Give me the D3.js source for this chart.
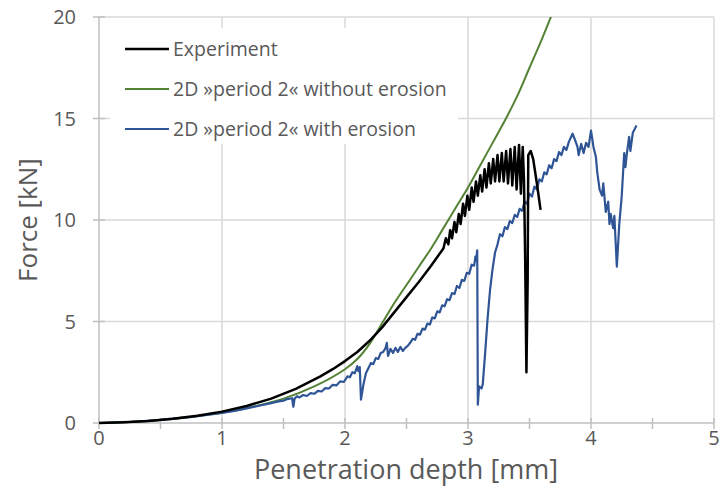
<head>
    <title>Force vs penetration depth</title>
    <script src="https://d3js.org/d3.v7.min.js"></script>
    <style>
        body { margin: 0; background: white; }
        .tick-label { font-family: "Open Sans"; font-size: 20px; fill: #595959; }
        .axis-title { font-family: "Open Sans"; font-size: 27px; fill: #595959; }
        .legend-text { font-family: "Open Sans"; font-size: 19.5px; fill: #595959; }
        .grid { stroke: #d9d9d9; stroke-width: 1.5px; }
        .axis-line { stroke: #bfbfbf; stroke-width: 1.5px; }
        .curve { fill: none; stroke-linejoin: round; }
    </style>
</head>
<body>
    <div class="container"></div>
    <script>
        // tick labels
        let xTicks = [0, 1, 2, 3, 4, 5];
        let xMinor = [0.5, 1.5, 2.5, 3.5, 4.5];
        let yTicks = [0, 5, 10, 15, 20];

        // [depth mm, force kN]
        let experiment = [
            [0, 0], [0.2, 0.04], [0.4, 0.1], [0.6, 0.21], [0.8, 0.36], [1, 0.56], [1.2, 0.84],
            [1.4, 1.2], [1.6, 1.68], [1.8, 2.3], [1.9, 2.65], [2, 3.05], [2.1, 3.5], [2.2, 4.05],
            [2.3, 4.7], [2.4, 5.45], [2.5, 6.2], [2.6, 6.95], [2.7, 7.75], [2.8, 8.6],
            [2.82, 9.1], [2.84, 8.8], [2.855, 9.5], [2.87, 9.1], [2.89, 9.9], [2.905, 9.4],
            [2.925, 10.3], [2.94, 9.8], [2.96, 10.8], [2.975, 10.2], [2.995, 11.2], [3.01, 10.5],
            [3.03, 11.6], [3.045, 10.9], [3.065, 11.9], [3.08, 11.2], [3.10, 12.2], [3.115, 11.4],
            [3.135, 12.5], [3.15, 11.6], [3.17, 12.8], [3.185, 11.8], [3.205, 13.0], [3.22, 11.9],
            [3.24, 13.2], [3.255, 11.9], [3.275, 13.3], [3.29, 11.9], [3.31, 13.4], [3.325, 11.8],
            [3.345, 13.5], [3.36, 11.7], [3.38, 13.6], [3.395, 11.5], [3.415, 13.7], [3.43, 11.3],
            [3.445, 13.6], [3.455, 12.0], [3.465, 8.0], [3.475, 2.5], [3.485, 7.0], [3.49, 13.2],
            [3.51, 13.4], [3.53, 13.0], [3.56, 11.8], [3.59, 10.5]
        ];

        let noErosion = [
            [0, 0], [0.25, 0.05], [0.5, 0.15], [0.75, 0.3], [1, 0.5], [1.25, 0.8], [1.5, 1.2],
            [1.75, 1.8], [2, 2.65], [2.1, 3.15], [2.2, 3.9], [2.3, 4.9], [2.4, 5.9], [2.5, 6.8],
            [2.6, 7.7], [2.7, 8.6], [2.8, 9.6], [2.9, 10.6], [3.0, 11.6], [3.1, 12.7], [3.2, 13.8],
            [3.3, 14.9], [3.4, 16.1], [3.5, 17.5], [3.6, 18.9], [3.7, 20.4]
        ];

        let withErosion = [
            [0, 0], [0.25, 0.05], [0.5, 0.15], [0.75, 0.3], [1, 0.5], [1.1, 0.6], [1.2, 0.72],
            [1.3, 0.85], [1.4, 0.98], [1.45, 1.05], [1.5, 1.1], [1.53, 1.18], [1.57, 1.22],
            [1.58, 0.8], [1.59, 1.2], [1.61, 1.32], [1.63, 1.26], [1.66, 1.38], [1.69, 1.33],
            [1.72, 1.47], [1.75, 1.44], [1.78, 1.58], [1.81, 1.55], [1.84, 1.72], [1.87, 1.7],
            [1.9, 1.88], [1.93, 1.85], [1.96, 2.05], [1.99, 2.02], [2.02, 2.3], [2.04, 2.25],
            [2.06, 2.5], [2.08, 2.45], [2.1, 2.8], [2.11, 2.55], [2.12, 2.75], [2.13, 1.15],
            [2.15, 1.9], [2.17, 2.45], [2.19, 2.7], [2.21, 2.95], [2.23, 2.9], [2.25, 3.2],
            [2.27, 3.15], [2.29, 3.45], [2.31, 3.5], [2.33, 3.7], [2.34, 3.95], [2.35, 3.3],
            [2.37, 3.65], [2.39, 3.45], [2.41, 3.7], [2.43, 3.5], [2.45, 3.75], [2.47, 3.55],
            [2.49, 3.7], [2.51, 3.8], [2.53, 3.95], [2.55, 4.15], [2.57, 4.1], [2.59, 4.4],
            [2.61, 4.35], [2.63, 4.65], [2.65, 4.6], [2.67, 4.9], [2.69, 4.85], [2.71, 5.2],
            [2.73, 5.15], [2.75, 5.5], [2.77, 5.45], [2.79, 5.8], [2.81, 5.75], [2.83, 6.1],
            [2.85, 6.05], [2.87, 6.4], [2.89, 6.35], [2.91, 6.75], [2.93, 6.65], [2.95, 7.05],
            [2.97, 7.0], [2.99, 7.4], [3.01, 7.35], [3.03, 7.8], [3.05, 7.75], [3.06, 8.2],
            [3.065, 8.0], [3.075, 8.5], [3.08, 0.9], [3.09, 1.8], [3.11, 1.7], [3.12, 1.9],
            [3.14, 3.5], [3.16, 5.2], [3.18, 6.6], [3.2, 7.6], [3.22, 8.4], [3.24, 8.8],
            [3.26, 9.3], [3.28, 9.2], [3.3, 9.65], [3.32, 9.55], [3.34, 9.95], [3.36, 9.85],
            [3.38, 10.25], [3.4, 10.15], [3.42, 10.55], [3.44, 10.45], [3.46, 10.9], [3.48, 10.8],
            [3.5, 11.3], [3.52, 11.15], [3.54, 11.65], [3.56, 11.5], [3.58, 12.0], [3.6, 11.9],
            [3.62, 12.35], [3.64, 12.25], [3.66, 12.7], [3.68, 12.55], [3.7, 13.0], [3.72, 12.9],
            [3.74, 13.35], [3.76, 13.2], [3.78, 13.6], [3.8, 13.45], [3.82, 13.85], [3.85, 14.25],
            [3.87, 13.95], [3.89, 13.6], [3.9, 13.2], [3.92, 13.75], [3.94, 13.3], [3.96, 13.8],
            [3.98, 13.6], [4.0, 14.4], [4.02, 13.6], [4.04, 13.1], [4.05, 12.4], [4.07, 11.5],
            [4.09, 11.2], [4.1, 11.8], [4.12, 10.4], [4.14, 10.9], [4.15, 9.8], [4.16, 10.3],
            [4.18, 9.6], [4.19, 10.2], [4.21, 7.7], [4.23, 9.8], [4.25, 11.2], [4.27, 13.3],
            [4.28, 12.6], [4.29, 13.2], [4.31, 14.1], [4.32, 13.4], [4.34, 14.3], [4.37, 14.65]
        ];

        let seriesNames = ["Experiment", "2D \u00bbperiod 2\u00ab without erosion", "2D \u00bbperiod 2\u00ab with erosion"];
        let seriesColors = ["#000000", "#548235", "#2f5597"];
        let seriesWidths = [2.5, 2, 2.2];
        let seriesData = [experiment, noErosion, withErosion];

        let svg = d3.select(".container").append("svg").attr("width", 720).attr("height", 490);

        let x = d3.scaleLinear().domain([0, 5]).range([99, 714]);
        let y = d3.scaleLinear().domain([0, 20]).range([423, 17]);

        // gridlines
        svg.append("g").selectAll("line").data(xTicks.slice(1)).enter().append("line")
            .attr("class", "grid")
            .attr("x1", d => x(d)).attr("x2", d => x(d))
            .attr("y1", y(0)).attr("y2", y(20));
        svg.append("g").selectAll("line").data(yTicks.slice(1)).enter().append("line")
            .attr("class", "grid")
            .attr("x1", x(0)).attr("x2", x(5))
            .attr("y1", d => y(d)).attr("y2", d => y(d));

        // axes
        svg.append("line").attr("class", "axis-line")
            .attr("x1", x(0)).attr("x2", x(5)).attr("y1", y(0)).attr("y2", y(0));
        svg.append("line").attr("class", "axis-line")
            .attr("x1", x(0)).attr("x2", x(0)).attr("y1", y(0)).attr("y2", y(20));
        svg.append("g").selectAll("line").data(xTicks.concat(xMinor)).enter().append("line")
            .attr("class", "axis-line")
            .attr("x1", d => x(d)).attr("x2", d => x(d))
            .attr("y1", y(0) - 5).attr("y2", y(0) + 6);
        svg.append("g").selectAll("line").data(yTicks).enter().append("line")
            .attr("class", "axis-line")
            .attr("x1", x(0) - 6).attr("x2", x(0) + 6)
            .attr("y1", d => y(d)).attr("y2", d => y(d));

        // tick labels
        svg.append("g").selectAll("text").data(xTicks).enter().append("text")
            .attr("class", "tick-label")
            .attr("x", d => x(d)).attr("y", 445)
            .attr("text-anchor", "middle")
            .text(d => d);
        svg.append("g").selectAll("text").data(yTicks).enter().append("text")
            .attr("class", "tick-label")
            .attr("x", 76).attr("y", d => y(d) + 7)
            .attr("text-anchor", "end")
            .text(d => d);

        svg.append("text").attr("class", "axis-title")
            .attr("x", 406).attr("y", 479)
            .attr("text-anchor", "middle")
            .text("Penetration depth [mm]");
        svg.append("text").attr("class", "axis-title")
            .style("font-size", "26px")
            .attr("transform", "translate(37,220) rotate(-90)")
            .attr("text-anchor", "middle")
            .text("Force [kN]");

        // legend box sits over the gridlines, curves go on top of it
        svg.append("rect")
            .attr("x", 110).attr("y", 28).attr("width", 348).attr("height", 116)
            .style("fill", "white");

        let legend = svg.append("g");
        seriesNames.forEach(function(name, i) {
            let ly = 49 + i * 40;
            legend.append("line")
                .attr("x1", 125).attr("x2", 169).attr("y1", ly).attr("y2", ly)
                .style("stroke", seriesColors[i]).style("stroke-width", seriesWidths[i]);
            legend.append("text").attr("class", "legend-text")
                .attr("x", 173).attr("y", ly + 7)
                .text(name);
        });

        svg.append("clipPath").attr("id", "plot-clip").append("rect")
            .attr("x", x(0)).attr("y", y(20)).attr("width", x(5) - x(0)).attr("height", y(0) - y(20) + 2);

        let line = d3.line().x(d => x(d[0])).y(d => y(d[1]));
        let smooth = d3.line().x(d => x(d[0])).y(d => y(d[1])).curve(d3.curveCatmullRom.alpha(0.5));
        let curves = svg.append("g").attr("clip-path", "url(#plot-clip)");
        // draw order: green, blue, black on top
        [1, 2, 0].forEach(function(i) {
            curves.append("path")
                .datum(seriesData[i])
                .attr("class", "curve")
                .attr("d", i == 1 ? smooth : line)
                .style("stroke", seriesColors[i])
                .style("stroke-width", seriesWidths[i]);
        });
    </script>
</body>
